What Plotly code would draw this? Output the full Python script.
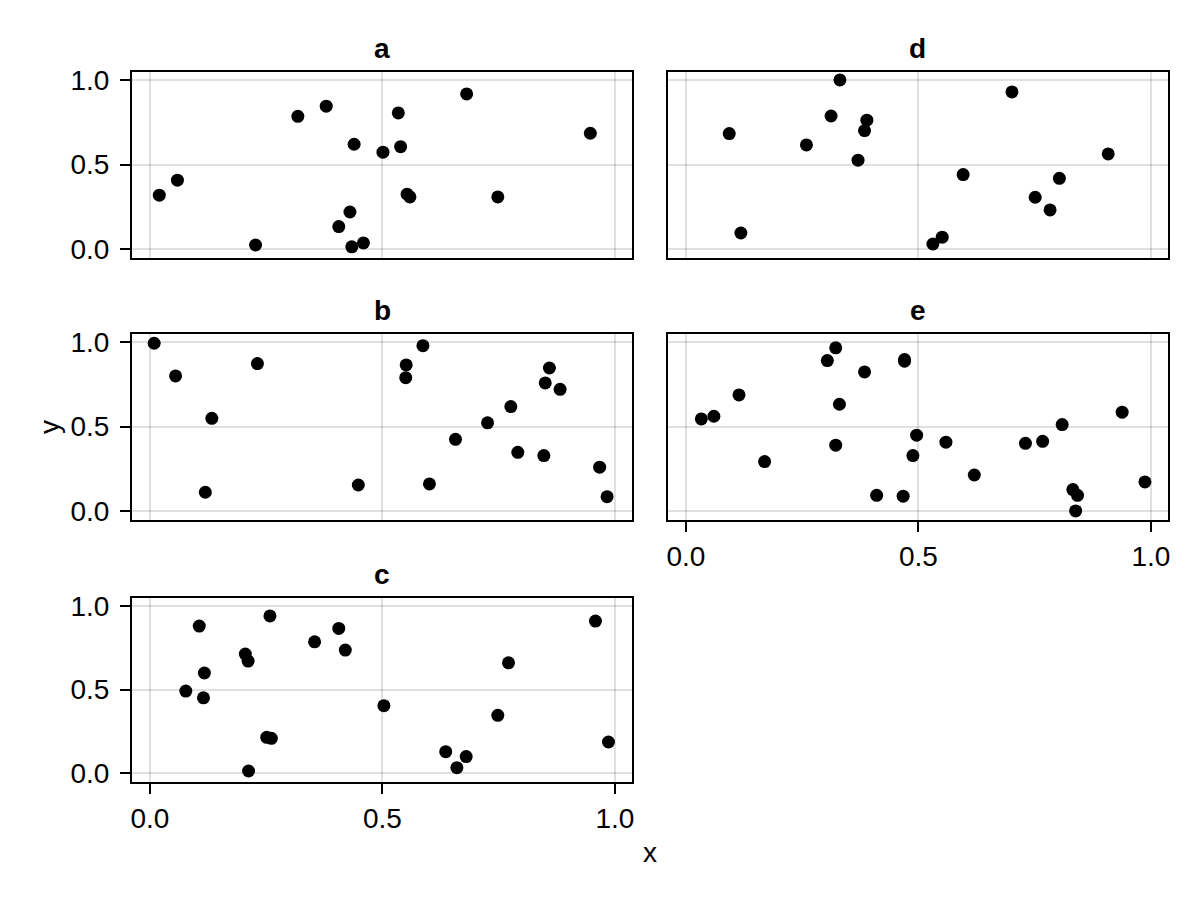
import plotly.graph_objects as go

# ---- data ----
a_x = [0.020, 0.059, 0.227, 0.318, 0.379, 0.439, 0.430, 0.406, 0.434, 0.459,
       0.501, 0.534, 0.539, 0.553, 0.559, 0.681, 0.748, 0.947]
a_y = [0.319, 0.408, 0.025, 0.785, 0.845, 0.620, 0.220, 0.134, 0.014, 0.037,
       0.573, 0.805, 0.606, 0.325, 0.309, 0.917, 0.309, 0.685]

b_x = [0.009, 0.055, 0.133, 0.119, 0.231, 0.448, 0.551, 0.550, 0.587, 0.601,
       0.657, 0.726, 0.776, 0.791, 0.859, 0.850, 0.882, 0.847, 0.967, 0.983]
b_y = [0.992, 0.799, 0.549, 0.112, 0.872, 0.155, 0.864, 0.789, 0.978, 0.161,
       0.425, 0.522, 0.618, 0.348, 0.846, 0.758, 0.720, 0.329, 0.260, 0.086]

c_x = [0.077, 0.106, 0.117, 0.115, 0.205, 0.211, 0.212, 0.258, 0.251, 0.261,
       0.354, 0.406, 0.420, 0.503, 0.636, 0.660, 0.680, 0.748, 0.771, 0.958, 0.986]
c_y = [0.491, 0.879, 0.599, 0.451, 0.712, 0.670, 0.014, 0.940, 0.215, 0.209,
       0.785, 0.865, 0.736, 0.404, 0.129, 0.034, 0.100, 0.346, 0.660, 0.909, 0.187]

d_x = [0.093, 0.118, 0.259, 0.312, 0.331, 0.370, 0.384, 0.389, 0.531, 0.551,
       0.596, 0.701, 0.751, 0.783, 0.803, 0.908]
d_y = [0.683, 0.096, 0.616, 0.787, 1.000, 0.526, 0.701, 0.762, 0.031, 0.071,
       0.441, 0.929, 0.307, 0.232, 0.419, 0.563]

e_x = [0.033, 0.060, 0.114, 0.169, 0.304, 0.322, 0.330, 0.322, 0.384, 0.410,
       0.467, 0.470, 0.470, 0.488, 0.496, 0.559, 0.620, 0.730, 0.767, 0.809,
       0.832, 0.842, 0.838, 0.938, 0.987]
e_y = [0.545, 0.561, 0.687, 0.293, 0.890, 0.965, 0.632, 0.390, 0.823, 0.094,
       0.089, 0.896, 0.886, 0.329, 0.449, 0.408, 0.214, 0.401, 0.413, 0.512,
       0.128, 0.094, 0.002, 0.585, 0.173]

panel_titles = ["a", "b", "c", "d", "e"]
tick_vals = [0.0, 0.5, 1.0]
tick_text = ["0.0", "0.5", "1.0"]
x_label = "x"
y_label = "y"

# ---- layout geometry (pixels in the 1200x900 window; page has an 8px margin) ----
OFF = 8
W, H = 1200 - 2 * OFF, 900 - 2 * OFF
FONT = "Liberation Sans, Arial, sans-serif"
FS = 28


def fx(px):
    return (px - OFF) / W


def fy(py):
    return 1 - (py - OFF) / H


cols = [(132, 632), (668, 1168)]
rows = [(72.3, 257.7), (334.3, 519.7), (598.3, 781.7)]

# panel: (data x, data y, col, row, show x ticks, show y ticks)
panels = [
    (a_x, a_y, 0, 0, False, True),
    (b_x, b_y, 0, 1, False, True),
    (c_x, c_y, 0, 2, True, True),
    (d_x, d_y, 1, 0, False, False),
    (e_x, e_y, 1, 1, True, False),
]

fig = go.Figure()
annotations = []
xr = [-0.0387, 1.0366]
yr = [-0.050, 1.045]

for i, ((px, py, c, r, showx, showy), title) in enumerate(zip(panels, panel_titles)):
    n = i + 1
    xa = "x" if n == 1 else f"x{n}"
    ya = "y" if n == 1 else f"y{n}"
    fig.add_trace(go.Scatter(
        x=px, y=py, mode="markers", xaxis=xa, yaxis=ya,
        marker=dict(color="black", size=13, line=dict(width=0)),
        showlegend=False, hoverinfo="skip",
    ))
    x0, x1 = cols[c]
    t0, t1 = rows[r]
    xdom = [fx(x0), fx(x1)]
    ydom = [fy(t1), fy(t0)]
    common = dict(
        showline=True, linecolor="black", linewidth=2, mirror=True,
        showgrid=True, gridcolor="rgba(0,0,0,0.12)", gridwidth=2,
        zeroline=False, tickvals=tick_vals, ticktext=tick_text,
        tickfont=dict(family=FONT, size=FS, color="black"),
        ticklen=10, tickwidth=2, tickcolor="black", automargin=False,
    )
    xkey = "xaxis" if n == 1 else f"xaxis{n}"
    ykey = "yaxis" if n == 1 else f"yaxis{n}"
    fig.update_layout(**{
        xkey: dict(domain=xdom, anchor=ya, range=xr,
                   ticks="outside" if showx else "",
                   showticklabels=showx, ticklabelstandoff=1, **common),
        ykey: dict(domain=ydom, anchor=xa, range=yr,
                   ticks="outside" if showy else "",
                   showticklabels=showy, ticklabelstandoff=5, **common),
    })
    annotations.append(dict(
        text=f"<b>{title}</b>", xref="paper", yref="paper",
        x=fx((x0 + x1) / 2), y=fy(t0 - 23.5),
        xanchor="center", yanchor="middle", showarrow=False,
        font=dict(family=FONT, size=FS, color="black"),
    ))

annotations.append(dict(
    text=x_label, xref="paper", yref="paper", x=fx(650), y=fy(852),
    xanchor="center", yanchor="middle", showarrow=False,
    font=dict(family=FONT, size=FS, color="black"),
))
annotations.append(dict(
    text=y_label, xref="paper", yref="paper", x=fx(49), y=fy(427),
    xanchor="center", yanchor="middle", showarrow=False, textangle=-90,
    font=dict(family=FONT, size=FS, color="black"),
))

fig.update_layout(
    width=W, height=H, margin=dict(l=0, r=0, t=0, b=0, autoexpand=False),
    paper_bgcolor="white", plot_bgcolor="white",
    annotations=annotations,
    font=dict(family=FONT, size=FS, color="black"),
)

fig.write_html("out.html")
